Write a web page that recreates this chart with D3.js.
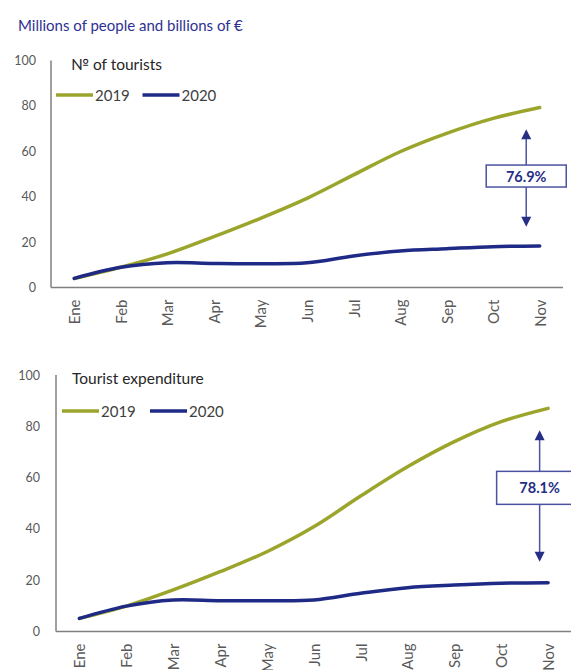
<!DOCTYPE html>
<html>
<head>
<meta charset="utf-8">
<script src="https://cdn.jsdelivr.net/npm/d3@7"></script>
<style>
  html, body { margin: 0; padding: 0; background: #fff; }
  svg { display: block; }
  text { font-family: Lato, "Open Sans", sans-serif; }
</style>
</head>
<body>
<svg id="chart" width="571" height="670"></svg>
<script>
// Cumulative monthly figures, January to November
const months = ["Ene", "Feb", "Mar", "Apr", "May", "Jun", "Jul", "Aug", "Sep", "Oct", "Nov"];
const tourists2019 = [4.0, 8.9, 14.8, 22.4, 30.5, 39.3, 49.6, 59.8, 67.9, 74.5, 79.3];
const tourists2020 = [4.0, 8.9, 10.9, 10.6, 10.5, 10.9, 13.9, 16.1, 17.1, 18.0, 18.3];
const spend2019 = [5.1, 9.9, 16.2, 23.3, 31.1, 40.8, 52.8, 64.2, 74.0, 81.8, 87.0];
const spend2020 = [5.1, 9.9, 12.3, 12.0, 12.0, 12.3, 14.9, 17.1, 18.1, 18.8, 19.05];
const yTicks = [0, 20, 40, 60, 80, 100];
const seriesNames = ["2019", "2020"];
const mainTitle = "Millions of people and billions of €";
const panelTitles = ["№ of tourists", "Tourist expenditure"];

const COLORS = { y2019: "#9ba52b", y2020: "#1f2a86", axis: "#808080", tick: "#595959",
                 title: "#2e3192", note: "#4b53a0", noteText: "#262e86" };

const svg = d3.select("#chart");

svg.append("text")
  .attr("x", 18).attr("y", 25)
  .attr("dominant-baseline", "central")
  .attr("fill", COLORS.title)
  .style("font-size", "15px")
  .text(mainTitle);

function drawPanel(p) {
  const g = svg.append("g");
  const x = d3.scaleBand().domain(months).range([p.left, p.right]);
  const y = d3.scaleLinear().domain([0, 100]).range([p.bottom, p.top]);
  const cx = m => x(m) + x.bandwidth() / 2;

  // axes (plain lines, no tick marks)
  g.append("line").attr("x1", p.left).attr("x2", p.left).attr("y1", y(100)).attr("y2", y(0))
    .attr("stroke", COLORS.axis).attr("stroke-width", 1.5);
  g.append("line").attr("x1", p.left).attr("x2", p.right).attr("y1", y(0)).attr("y2", y(0))
    .attr("stroke", COLORS.axis).attr("stroke-width", 1.5);

  g.selectAll(".ytick").data(yTicks).join("text")
    .attr("x", p.left - p.tickGap).attr("y", d => y(d))
    .attr("text-anchor", "end").attr("dominant-baseline", "central")
    .attr("fill", COLORS.tick).style("font-size", "12.5px")
    .text(d => d);

  g.selectAll(".xtick").data(months).join("text")
    .attr("transform", d => `translate(${cx(d)},${y(0) + 12}) rotate(-90)`)
    .attr("text-anchor", "end").attr("dominant-baseline", "central")
    .attr("fill", COLORS.tick).style("font-size", "15px")
    .text(d => d);

  // lines
  const line = d3.line().x((d, i) => cx(months[i])).y(d => y(d)).curve(d3.curveCatmullRom.alpha(0.5));
  [[p.s2019, COLORS.y2019], [p.s2020, COLORS.y2020]].forEach(([vals, col]) => {
    g.append("path").datum(vals).attr("d", line)
      .attr("fill", "none").attr("stroke", col).attr("stroke-width", 3.5)
      .attr("stroke-linecap", "round").attr("stroke-linejoin", "round");
  });

  // panel title
  g.append("text").attr("x", p.titleX).attr("y", y(100) + 3)
    .attr("dominant-baseline", "central").attr("fill", "#262626")
    .style("font-size", "15.5px").text(p.title);

  // legend
  const ly = y(p.legendAt);
  p.legend.forEach((lg, i) => {
    g.append("line").attr("x1", lg.x).attr("x2", lg.x + 37).attr("y1", ly).attr("y2", ly)
      .attr("stroke", i === 0 ? COLORS.y2019 : COLORS.y2020).attr("stroke-width", 3.5);
    g.append("text").attr("x", lg.x + 39).attr("y", ly).attr("dominant-baseline", "central")
      .attr("fill", "#404040").style("font-size", "15px").text(seriesNames[i]);
  });

  // decline annotation between the two November values
  const last = months.length - 1;
  const ax = cx(months[last - 1]) + x.step() * p.arrowFrac;
  const yTop = y(p.arrowTop), yBot = y(p.arrowBottom), yMid = y(p.boxAt);
  const pct = (1 - p.s2020[last] / p.s2019[last]) * 100;
  g.append("line").attr("x1", ax).attr("x2", ax).attr("y1", yTop + 8).attr("y2", yBot - 8)
    .attr("stroke", COLORS.note).attr("stroke-width", 1.5);
  const head = 5, hl = 10;
  g.append("path").attr("d", `M${ax},${yTop} L${ax - head},${yTop + hl} L${ax + head},${yTop + hl} Z`)
    .attr("fill", COLORS.noteText);
  g.append("path").attr("d", `M${ax},${yBot} L${ax - head},${yBot - hl} L${ax + head},${yBot - hl} Z`)
    .attr("fill", COLORS.noteText);
  g.append("rect").attr("x", ax - p.boxW / 2).attr("y", yMid - p.boxH / 2)
    .attr("width", p.boxW).attr("height", p.boxH)
    .attr("fill", "#fff").attr("stroke", COLORS.note).attr("stroke-width", 1.5);
  g.append("text").attr("x", ax).attr("y", yMid).attr("text-anchor", "middle")
    .attr("dominant-baseline", "central").attr("fill", COLORS.noteText)
    .style("font-size", "14.5px").style("font-weight", "bold")
    .text(d3.format(".1f")(pct) + "%");
}

drawPanel({
  left: 51, right: 563, top: 60.5, bottom: 287.5, tickGap: 15,
  s2019: tourists2019, s2020: tourists2020, title: panelTitles[0], titleX: 71,
  legendAt: 84.8, legend: [{ x: 56 }, { x: 142.5 }],
  arrowFrac: 0.71, arrowTop: 69.7, arrowBottom: 26.8, boxAt: 49.1, boxW: 80, boxH: 22
});

drawPanel({
  left: 56, right: 571.5, top: 375, bottom: 631.5, tickGap: 16,
  s2019: spend2019, s2020: spend2020, title: panelTitles[1], titleX: 72,
  legendAt: 86.0, legend: [{ x: 62 }, { x: 150 }],
  arrowFrac: 0.82, arrowTop: 78.5, arrowBottom: 27.2, boxAt: 56.0, boxW: 86, boxH: 33
});
</script>
</body>
</html>
